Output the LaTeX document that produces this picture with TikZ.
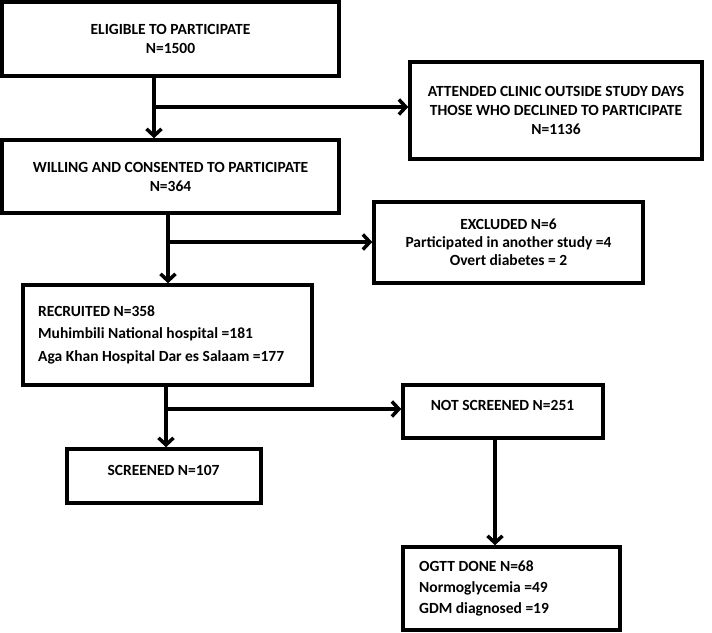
\documentclass[tikz,border=0pt]{standalone}
\usepackage{fontspec}
\setmainfont{Carlito}
\usepackage{tikz}
\usetikzlibrary{arrows.meta,positioning}
\tikzset{
  box/.style={rectangle,draw=black,line width=3.5pt,inner sep=0pt,font=\fontsize{15.5}{19}\selectfont\bfseries,align=center},
  lbox/.style={box,align=left},
  txt/.style={inner sep=0pt,font=\fontsize{15.5}{19}\selectfont\bfseries},
  flow/.style={-{Straight Barb[length=7pt,width=15pt,line width=3.5pt]},line width=4pt,black},
}

\begin{document}
\begin{tikzpicture}[x=1pt,y=-1pt]
  \useasboundingbox (0,0) rectangle (712,632);
  % main column of boxes
  \node[box,minimum width=337pt,minimum height=74pt] (elig) at (170.5,39){ELIGIBLE TO PARTICIPATE\\N=1500};
  \node[box,minimum width=337pt,minimum height=73pt] (willing) at (170.5,176.5){WILLING AND CONSENTED TO PARTICIPATE\\N=364};
  \node[box,minimum width=289pt,minimum height=100pt] (recr) at (167.5,335){};
  \node[txt,anchor=west,align=left,font=\fontsize{15.5}{22.5}\selectfont\bfseries] (recrt) at (38,334.5){RECRUITED N=358\\Muhimbili National hospital =181\\Aga Khan Hospital Dar es Salaam =177};
  \node[box,minimum width=194pt,minimum height=54pt] (scr) at (164,476){};
  \node[txt] (scrt) at (163.5,470){SCREENED N=107};
  % side boxes
  \node[box,minimum width=292pt,minimum height=97pt] (decl) at (556,110.5){ATTENDED CLINIC OUTSIDE STUDY DAYS\\THOSE WHO DECLINED TO PARTICIPATE\\N=1136};
  \node[box,minimum width=269pt,minimum height=81pt,font=\fontsize{15.5}{18}\selectfont\bfseries] (excl) at (508.5,242.5){EXCLUDED N=6\\Participated in another study =4\\Overt diabetes = 2};
  \node[box,minimum width=200pt,minimum height=53pt] (notscr) at (503,411.5){};
  \node[txt] (notscrt) at (502.5,405){NOT SCREENED N=251};
  \node[box,minimum width=217pt,minimum height=83pt] (ogtt) at (511.5,588.5){};
  \node[txt,anchor=west,align=left,font=\fontsize{15.5}{21}\selectfont\bfseries] (ogttt) at (419,588){OGTT DONE N=68\\Normoglycemia =49\\GDM diagnosed =19};
  % junctions on the down arrows
  \coordinate (j1) at (154,107);
  \coordinate (j2) at (168,242);
  \coordinate (j3) at (166,409);
  \draw[flow] (elig.south -| j1) -- (willing.north -| j1);
  \draw[flow] (j1) -- (decl.west |- j1);
  \draw[flow] (willing.south -| j2) -- (recr.north -| j2);
  \draw[flow] (j2) -- (excl.west |- j2);
  \draw[flow] (recr.south -| j3) -- (scr.north -| j3);
  \draw[flow] (j3) -- (notscr.west |- j3);
  \draw[flow] (notscr.south -| 495,0) -- (ogtt.north -| 495,0);
\end{tikzpicture}
\end{document}
